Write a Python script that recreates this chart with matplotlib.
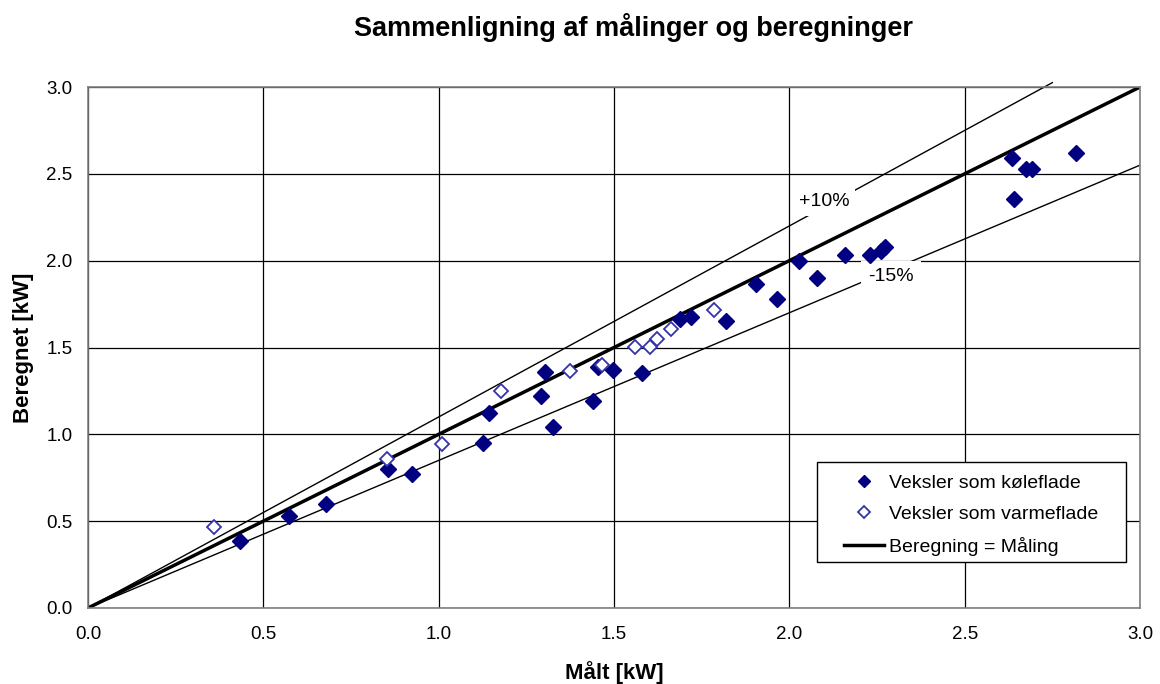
import matplotlib
matplotlib.use("Agg")
import matplotlib.pyplot as plt
from matplotlib.patches import Rectangle
import numpy as np

plt.rcParams['font.family'] = ['Liberation Sans', 'DejaVu Sans']

# Veksler som køleflade (filled)
cool_x = [0.434, 0.573, 0.679, 0.855, 0.924, 1.126, 1.143, 1.292, 1.303, 1.326,
          1.440, 1.455, 1.497, 1.580, 1.688, 1.720, 1.820, 1.905, 1.965, 2.028,
          2.079, 2.159, 2.230, 2.262, 2.273, 2.635, 2.641, 2.675, 2.692, 2.817]
cool_y = [0.386, 0.530, 0.600, 0.803, 0.772, 0.950, 1.123, 1.220, 1.359, 1.042,
          1.190, 1.388, 1.370, 1.356, 1.664, 1.674, 1.653, 1.866, 1.780, 2.000,
          1.903, 2.033, 2.033, 2.055, 2.080, 2.590, 2.355, 2.528, 2.528, 2.620]

# Veksler som varmeflade (open)
heat_x = [0.359, 0.853, 1.009, 1.177, 1.374, 1.466, 1.560, 1.603, 1.623, 1.663, 1.785]
heat_y = [0.466, 0.858, 0.944, 1.250, 1.365, 1.400, 1.503, 1.503, 1.549, 1.607, 1.716]

# Reference lines
eq_x = [0.0, 3.0]
eq_y = [0.0, 3.0]
plus_x = [0.0, 2.75]
plus_y = [0.0, 2.75 * 1.10]
minus_x = [0.0, 3.0]
minus_y = [0.0, 3.0 * 0.85]

ticks = [0.0, 0.5, 1.0, 1.5, 2.0, 2.5, 3.0]
tick_labels = ["0.0", "0.5", "1.0", "1.5", "2.0", "2.5", "3.0"]

W, H = 1160, 684
fig = plt.figure(figsize=(W / 100, H / 100), dpi=100)
ax = fig.add_axes([88 / W, 1 - 608 / H, (1140 - 88) / W, (608 - 87) / H])

ax.set_xlim(0, 3.0)
ax.set_ylim(0, 3.0)
ax.set_xticks(ticks)
ax.set_yticks(ticks)
ax.set_xticklabels(tick_labels)
ax.set_yticklabels(tick_labels)
ax.tick_params(length=0, labelsize=13.5)
ax.tick_params(axis='x', pad=13)
ax.tick_params(axis='y', pad=11)
ax.grid(True, color='black', linewidth=0.9)
ax.set_axisbelow(True)
for s in ax.spines.values():
    s.set_color('#808080')
    s.set_linewidth(1.2)

ax.plot(plus_x, plus_y, color='black', linewidth=1.0, clip_on=False, zorder=2)
ax.plot(minus_x, minus_y, color='black', linewidth=1.0, zorder=2)
ax.plot(eq_x, eq_y, color='black', linewidth=2.5, zorder=2, label='Beregning = Måling')

ax.plot(cool_x, cool_y, linestyle='none', marker='D', markersize=8.5,
        color='#000080', markeredgecolor='#000080', zorder=4, label='Veksler som køleflade')
ax.plot(heat_x, heat_y, linestyle='none', marker='D', markersize=7.5,
        markerfacecolor='white', markeredgecolor='#3333aa', markeredgewidth=1.3,
        zorder=5, label='Veksler som varmeflade')

ax.text(2.10, 2.34, "+10%", fontsize=14, ha='center', va='center',
        bbox=dict(facecolor='white', edgecolor='none', pad=4), zorder=3)
ax.text(2.29, 1.91, "-15%", fontsize=14, ha='center', va='center',
        bbox=dict(facecolor='white', edgecolor='none', pad=5), zorder=3)

# legend frame
frame = Rectangle((817 / W, 1 - 562 / H), (1126 - 817) / W, (562 - 462) / H,
                  transform=fig.transFigure, facecolor='white', edgecolor='black',
                  linewidth=1.0, zorder=6)
ax.add_artist(frame)
frame.set_clip_on(False)

handles, labels = ax.get_legend_handles_labels()
order = [1, 2, 0]
leg = ax.legend([handles[i] for i in order], [labels[i] for i in order],
                loc='center', bbox_to_anchor=(971 / W, 1 - 515 / H),
                bbox_transform=fig.transFigure, fontsize=14, frameon=False,
                borderpad=0.0, labelspacing=0.72, handlelength=2.1,
                handletextpad=0.25, markerscale=0.75)
leg.set_zorder(7)

fig.text(633 / W, 1 - 27 / H, "Sammenligning af målinger og beregninger",
         ha='center', va='center', fontsize=19.5, fontweight='bold')
fig.text(614 / W, 1 - 673 / H, "Målt [kW]", ha='center', va='center',
         fontsize=16, fontweight='bold')
fig.text(24 / W, 1 - 348 / H, "Beregnet [kW]", ha='center', va='center',
         rotation=90, fontsize=16, fontweight='bold')

fig.savefig("out.png", dpi=100)
